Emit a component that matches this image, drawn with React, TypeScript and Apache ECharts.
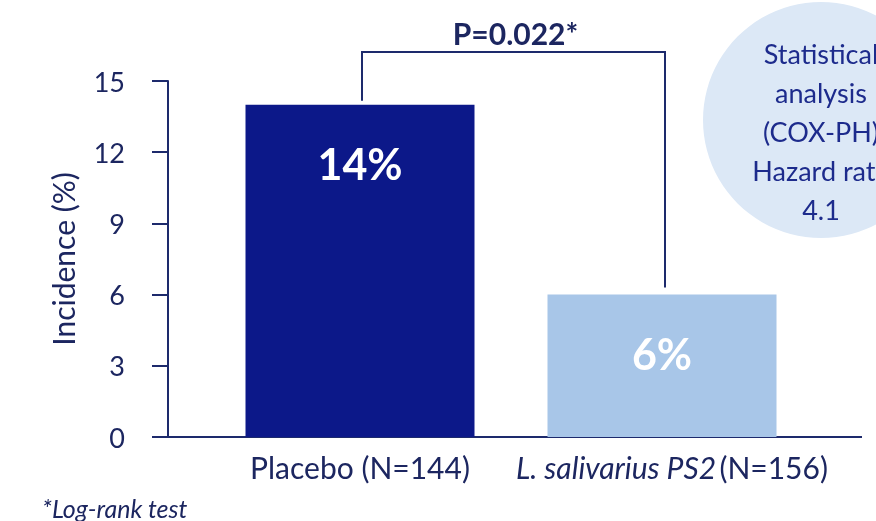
import React, { useEffect, useRef } from 'react';
import * as echarts from 'echarts';

const categories = ['Placebo', 'L. salivarius PS2'];
const sampleSizes = [144, 156];
const incidence = [14, 6];
const yTickMin = 0;
const yTickMax = 15;
const yTickInterval = 3;
const pValueText = 'P=0.022*';
const circleLines = ['Statistical', 'analysis', '(COX-PH)', 'Hazard rate', '4.1'];
const footnote = '*Log-rank test';

const NAVY = '#1c2660';
const AXIS = '#1d2a6c';
const FONT = 'Lato, "Noto Sans", sans-serif';

export default function App() {
  const ref = useRef<HTMLDivElement>(null);
  useEffect(() => {
    const chart = echarts.init(ref.current!, null, { renderer: 'svg' });
    const gridLeft = 209;
    const gridRight = 63;
    const axisX = 168;
    chart.setOption({
      animation: false,
      grid: { left: gridLeft, right: gridRight, top: 81, bottom: 84 },
      xAxis: {
        type: 'category',
        data: categories,
        axisLine: { show: false },
        axisTick: { show: false },
        axisLabel: {
          margin: 15,
          interval: 0,
          formatter: (v: string, i: number) =>
            i === 1
              ? `{i|${v}} {n|(N=${sampleSizes[i]})}`
              : `{n|${v} (N=${sampleSizes[i]})}`,
          rich: {
            n: { fontSize: 30, color: NAVY, fontFamily: FONT },
            i: {
              fontSize: 30,
              color: NAVY,
              fontFamily: FONT,
              fontStyle: 'italic',
              padding: [0, 0, 0, 20],
            },
          },
        },
      },
      yAxis: {
        type: 'value',
        min: yTickMin,
        max: yTickMax,
        interval: yTickInterval,
        offset: gridLeft - axisX,
        name: 'Incidence (%)',
        nameLocation: 'middle',
        nameGap: 90,
        nameTextStyle: { fontSize: 30, color: NAVY, fontFamily: FONT },
        axisLine: { show: true, lineStyle: { color: AXIS, width: 2 } },
        axisTick: { show: true, length: 16, lineStyle: { color: AXIS, width: 2 } },
        axisLabel: { margin: 43, fontSize: 27, color: NAVY, fontFamily: FONT },
        splitLine: { show: false },
      },
      series: [
        {
          type: 'bar',
          barWidth: 229,
          data: incidence.map((v, i) => ({
            value: v,
            itemStyle: { color: i === 0 ? '#0c1889' : '#a8c6e8' },
          })),
          label: {
            show: true,
            position: 'insideTop',
            distance: 37,
            formatter: '{c}%',
            color: '#ffffff',
            fontSize: 43,
            fontWeight: 'bold',
            fontFamily: FONT,
          },
        },
      ],
    });

    const p0 = chart.convertToPixel({ seriesIndex: 0 }, [0, incidence[0]]) as number[];
    const p1 = chart.convertToPixel({ seriesIndex: 0 }, [1, incidence[1]]) as number[];
    const base = chart.convertToPixel({ seriesIndex: 0 }, [0, 0]) as number[];
    const topY = 52;
    const lx = p0[0] + 2;
    const rx = p1[0] + 3;
    chart.setOption({
      graphic: [
        {
          type: 'line',
          shape: { x1: axisX, y1: base[1], x2: 862, y2: base[1] },
          style: { stroke: AXIS, lineWidth: 2 },
        },
        {
          type: 'polyline',
          shape: { points: [[lx, p0[1] - 4], [lx, topY], [rx, topY], [rx, p1[1] - 7]] },
          style: { stroke: AXIS, lineWidth: 2, fill: 'none' },
        },
        {
          type: 'text',
          x: (lx + rx) / 2 + 2,
          y: 33,
          style: {
            text: pValueText,
            fontSize: 30,
            fontWeight: 'bold',
            fill: NAVY,
            fontFamily: FONT,
            align: 'center',
            verticalAlign: 'middle',
          },
        },
        {
          type: 'circle',
          shape: { cx: 821, cy: 120, r: 118 },
          style: { fill: '#dce8f6' },
        },
        {
          type: 'text',
          x: 821,
          y: 131,
          style: {
            text: circleLines.join('\n'),
            fontSize: 27,
            lineHeight: 39,
            fill: '#1d2b8c',
            fontFamily: FONT,
            align: 'center',
            verticalAlign: 'middle',
          },
        },
        {
          type: 'text',
          x: 42,
          y: 508,
          style: {
            text: footnote,
            fontSize: 25,
            fontStyle: 'italic',
            fill: NAVY,
            fontFamily: FONT,
            align: 'left',
            verticalAlign: 'middle',
          },
        },
      ],
    });
    return () => chart.dispose();
  }, []);
  return (
    <div
      ref={ref}
      style={{ position: 'fixed', left: 0, top: 0, width: 876, height: 521 }}
    />
  );
}
